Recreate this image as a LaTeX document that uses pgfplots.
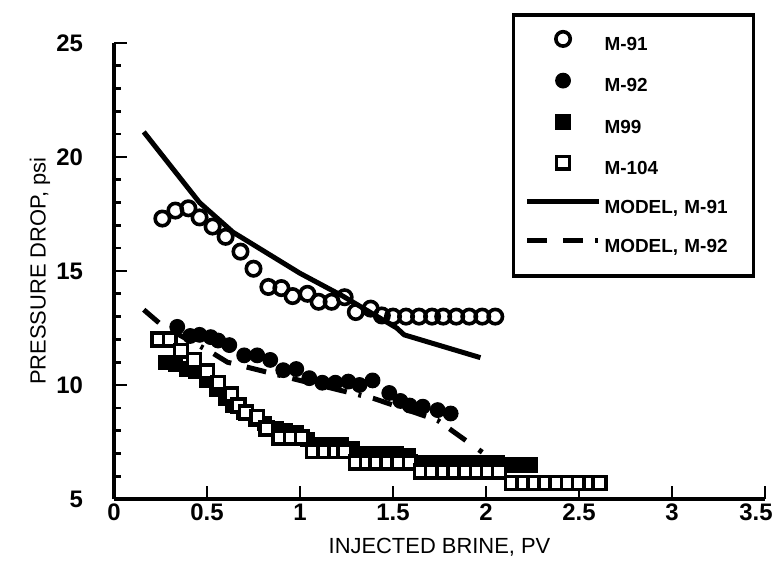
\documentclass[border=0pt]{standalone}
\usepackage{pgfplots}
\pgfplotsset{compat=1.18}
\usepackage{fontspec}
\setmainfont{Liberation Sans}

\pgfplotsset{
  leg/.style={legend image code/.code={%
    \draw[mark repeat=2,mark phase=2,##1,yshift=3.4bp] plot coordinates {(0bp,0bp) (18bp,0bp) (36bp,0bp)};}},
}

\begin{document}
\begin{tikzpicture}
\begin{axis}[
  at={(0,0)}, anchor=south west,
  scale only axis, width=325.5bp, height=228bp,
  xmin=0, xmax=3.5, ymin=5, ymax=25,
  axis x line*=bottom, axis y line*=left,
  axis line style={line width=2bp},
  tick align=inside,
  xtick={0,0.5,1,1.5,2,2.5,3},
  extra x ticks={3.5},
  extra x tick style={xticklabel style={anchor=north east, xshift=7.3bp}},
  ytick={5,10,15,20,25},
  minor ytick={6,7,8,9,11,12,13,14,16,17,18,19,21,22,23,24},
  major tick length=6.5bp, minor tick length=3.5bp,
  every tick/.style={black, line width=1.3bp},
  /pgf/number format/assume math mode=true,
  ticklabel style={font=\fontsize{12}{14}\selectfont\bfseries},
  xticklabel style={yshift=1bp},
  yticklabel style={xshift=-12bp},
  xlabel={INJECTED BRINE, PV},
  ylabel={PRESSURE DROP, psi},
  label style={font=\fontsize{11}{13}\selectfont},
  x label style={at={(axis description cs:0.5,-0.105)}, anchor=center},
  y label style={at={(axis description cs:-0.1137,0.5)}, anchor=center},
  clip=false,
  legend cell align=left,
  legend style={at={(axis description cs:0.611,1.066)}, anchor=north west,
    draw=black, line width=1.8bp, fill=white,
    inner xsep=5.5bp, inner ysep=8.5bp, row sep=8bp, column sep=1.5bp,
    nodes={inner sep=0pt, text height=8bp, text depth=3.5bp, text width=69bp,
      font=\fontsize{9.5}{11}\selectfont\bfseries}},
]
% M-91 open circles
\addplot[only marks, mark=o, mark size=3.6bp, line width=1.8bp, black, leg] coordinates {
(0.26,17.3) (0.33,17.65) (0.40,17.75) (0.46,17.35) (0.53,16.95) (0.60,16.5)
(0.68,15.85) (0.75,15.1) (0.83,14.3) (0.90,14.25) (0.96,13.9) (1.04,14.0)
(1.10,13.65) (1.17,13.65) (1.24,13.85) (1.30,13.2) (1.38,13.35) (1.44,13.05)
(1.50,13.0) (1.57,13.0) (1.64,13.0) (1.71,13.0) (1.77,13.0) (1.84,13.0)
(1.91,13.0) (1.98,13.0) (2.05,13.0)
};
\addlegendentry{M-91}
% M-92 filled circles
\addplot[only marks, mark=*, mark size=3.7bp, line width=0.5bp, black, mark options={fill=black}, leg] coordinates {
(0.34,12.55) (0.41,12.15) (0.46,12.2) (0.52,12.1) (0.56,11.95) (0.62,11.75)
(0.70,11.3) (0.77,11.3) (0.84,11.1) (0.91,10.65) (0.98,10.7) (1.05,10.3)
(1.12,10.1) (1.19,10.1) (1.26,10.15) (1.32,10.0) (1.39,10.2) (1.48,9.65)
(1.54,9.3) (1.59,9.1) (1.66,9.05) (1.74,8.9) (1.81,8.75)
};
\addlegendentry{M-92}
% M99 filled squares
\addplot[only marks, mark=square*, mark size=3.6bp, line width=0.5bp, black, mark options={fill=black}, leg] coordinates {
(0.28,11.0) (0.33,10.9) (0.39,10.7) (0.44,10.6) (0.50,10.2) (0.55,9.8)
(0.60,9.4) (0.64,9.1) (0.70,8.8) (0.76,8.5) (0.81,8.3) (0.87,8.1)
(0.92,8.0) (0.98,7.9) (1.04,7.6) (1.10,7.4) (1.16,7.4) (1.22,7.4)
(1.28,7.2) (1.34,7.0) (1.40,7.0) (1.46,7.0) (1.52,7.0) (1.58,6.9)
(1.64,6.6) (1.70,6.6) (1.76,6.6) (1.82,6.6) (1.88,6.6) (1.94,6.6)
(2.00,6.6) (2.06,6.6) (2.12,6.5) (2.18,6.5) (2.24,6.5)
};
\addlegendentry{M99}
% M-104 open squares
\addplot[only marks, mark=square*, mark size=3.2bp, line width=1.8bp, black, mark options={fill=white}, leg] coordinates {
(0.24,12.0) (0.30,12.0) (0.36,11.5) (0.43,11.1) (0.50,10.6) (0.56,10.1)
(0.63,9.6) (0.67,9.1) (0.71,8.8) (0.77,8.6) (0.82,8.1) (0.89,7.7)
(0.95,7.7) (1.01,7.7) (1.07,7.1) (1.13,7.1) (1.19,7.1) (1.24,7.1)
(1.30,6.6) (1.36,6.6) (1.41,6.6) (1.47,6.6) (1.53,6.6) (1.59,6.6)
(1.65,6.2) (1.71,6.2) (1.77,6.2) (1.83,6.2) (1.89,6.2) (1.95,6.2)
(2.01,6.2) (2.07,6.2) (2.14,5.7) (2.20,5.7) (2.26,5.7) (2.32,5.7)
(2.38,5.7) (2.44,5.7) (2.50,5.7) (2.56,5.7) (2.61,5.7)
};
\addlegendentry{M-104}
% Model M-91
\addplot[black, line width=2.5bp, line join=round, leg] coordinates {
(0.16,21.1) (0.46,18.0) (0.64,16.7) (0.82,15.8) (1.0,14.9) (1.23,13.9)
(1.52,12.5) (1.56,12.2) (1.97,11.2)
};
\addlegendentry{MODEL, M-91}
% Model M-92
\addplot[black, line width=2.5bp, dash pattern=on 10bp off 8bp on 10bp off 6bp on 1.5bp off 6bp, leg] coordinates {
(0.16,13.3) (0.26,12.6) (0.53,11.4) (0.61,11.0) (1.0,10.2) (1.4,9.4)
(1.74,8.45) (1.98,7.05)
};
\addlegendentry{MODEL, M-92}
\end{axis}
\pgfresetboundingbox
\path[use as bounding box] (-57bp,-33bp) rectangle (329.5bp,249.5bp);
\end{tikzpicture}
\end{document}
